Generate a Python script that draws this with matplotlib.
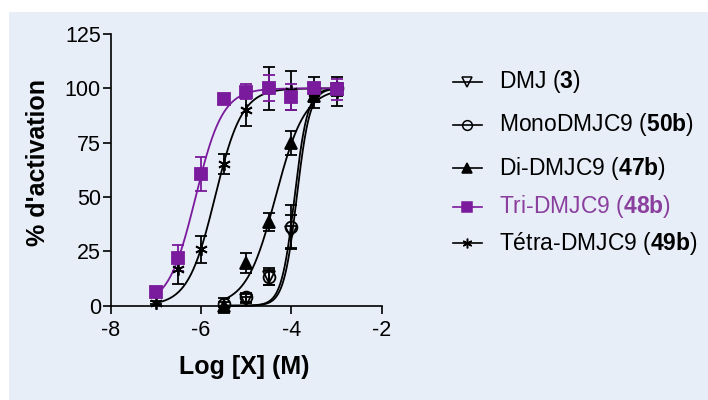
"""Dose-response curves of DMJ derivatives (% activation vs log concentration)."""

import numpy as np
import matplotlib
matplotlib.use("Agg")
import matplotlib.pyplot as plt
from matplotlib.lines import Line2D
from matplotlib.patches import Rectangle

plt.rcParams["font.family"] = ["Liberation Sans", "DejaVu Sans"]
plt.rcParams["mathtext.fontset"] = "custom"
plt.rcParams["mathtext.rm"] = "Liberation Sans"
plt.rcParams["mathtext.bf"] = "Liberation Sans:bold"
plt.rcParams["axes.unicode_minus"] = False

# ---- data ----
log_x = [-7, -6.5, -6, -5.5, -5, -4.5, -4, -3.5, -3]
log_x_late = [-5.5, -5, -4.5, -4, -3.5, -3]
log_x_dmj = [-5, -4.5, -4, -3.5, -3]

dmj_y = [2.6, 13, 34, 99.5, 99.5]
dmj_err = [1.5, 3.5, 7.5, 2, 2]

mono_y = [0.6, 3.8, 13.3, 36.3, 99.5, 100]
mono_err = [1, 2, 4, 10, 2, 2]

di_y = [0, 19.5, 38.6, 74.7, 96.5, 99.5]
di_err = [3.4, 4.6, 4.1, 5.5, 3, 3]

tri_y = [6.4, 22.1, 60.4, 95.2, 98.5, 100.3, 96.2, 100, 99.5]
tri_err = [1, 6, 7.8, 1, 3.5, 6, 6, 2, 5]

tetra_y = [1.4, 16.7, 25.9, 65.2, 90, 100, 99, 98, 98.5]
tetra_err = [0.8, 6.9, 6.1, 4.4, 7.4, 10, 9, 7, 6.5]

# fitted sigmoid parameters (logEC50, Hill slope, curve start)
fit_params = {
    "dmj": (-3.88, 3.0, -5.5),
    "mono": (-3.93, 3.0, -5.5),
    "di": (-4.35, 1.34, -5.5),
    "tri": (-6.12, 1.45, -7.0),
    "tetra": (-5.69, 1.45, -7.0),
}

labels = [r"DMJ ($\mathbf{3}$)", r"MonoDMJC9 ($\mathbf{50b}$)",
          r"Di-DMJC9 ($\mathbf{47b}$)", r"Tri-DMJC9 ($\mathbf{48b}$)",
          r"Tétra-DMJC9 ($\mathbf{49b}$)"]

PURPLE = "#7a1a9c"
PURPLE_TXT = "#8a3f9e"
BG = "#e8eef7"


def sigmoid(x, logec50, hill):
    return 100.0 / (1.0 + 10 ** ((logec50 - x) * hill))


fig = plt.figure(figsize=(7.08, 4.0), dpi=100)
fig.patch.set_facecolor("white")
fig.add_artist(Rectangle((9 / 708, 0), 1, 388 / 400, transform=fig.transFigure,
                         facecolor=BG, edgecolor="none", zorder=-10))

ax = fig.add_axes([110.7 / 708, 94.3 / 400, 271 / 708, 271.7 / 400])
ax.set_facecolor("none")

series = [
    ("dmj", log_x_dmj, dmj_y, dmj_err, "v", "black", "none"),
    ("mono", log_x_late, mono_y, mono_err, "o", "black", "none"),
    ("di", log_x_late, di_y, di_err, "^", "black", "black"),
    ("tetra", log_x, tetra_y, tetra_err, (6, 2, 0), "black", "black"),
    ("tri", log_x, tri_y, tri_err, "s", PURPLE, PURPLE),
]

for key, xs, ys, es, marker, color, face in series:
    c50, hill, x0 = fit_params[key]
    xx = np.linspace(x0, -3, 300)
    ax.plot(xx, sigmoid(xx, c50, hill), color=color, lw=1.3, zorder=2)
    ax.errorbar(xs, ys, yerr=es, fmt="none", ecolor=color, elinewidth=1.3,
                capsize=4.5, capthick=1.3, zorder=3)
    size = 9 if marker == (6, 2, 0) else 8.5
    ax.plot(xs, ys, linestyle="none", marker=marker, markersize=size,
            markerfacecolor=face, markeredgecolor=color, markeredgewidth=1.3,
            zorder=4)

ax.set_xlim(-8, -2)
ax.set_ylim(0, 125)
ax.set_xticks([-8, -6, -4, -2])
ax.set_yticks([0, 25, 50, 75, 100, 125])
for s in ["top", "right"]:
    ax.spines[s].set_visible(False)
for s in ["left", "bottom"]:
    ax.spines[s].set_linewidth(1.2)
ax.tick_params(direction="out", length=6, width=1.2, labelsize=15.5, colors="black")
ax.tick_params(axis="y", pad=1)
ax.tick_params(axis="x", pad=4)
for art in ax.get_children():
    if hasattr(art, "set_clip_on"):
        art.set_clip_on(False)

fig.text(244 / 708, 1 - 367 / 400, "Log [X] (M)", ha="center", va="center",
         fontsize=18, fontweight="bold")
fig.text(38 / 708, 1 - 163 / 400, "% d'activation", ha="center", va="center",
         rotation=90, fontsize=18, fontweight="bold")

# legend drawn by hand on the right
leg_y = [81.7, 125, 168.3, 206.7, 243.3]
leg_markers = ["v", "o", "^", "s", (6, 2, 0)]
leg_colors = ["black", "black", "black", PURPLE, "black"]
leg_faces = ["none", "none", "black", PURPLE, "black"]
for yy, lab, mk, col, fc in zip(leg_y, labels, leg_markers, leg_colors, leg_faces):
    yf = 1 - yy / 400
    fig.add_artist(Line2D([452.7 / 708, 481.7 / 708], [yf, yf],
                          transform=fig.transFigure, color=col, lw=1.2))
    fig.add_artist(Line2D([467 / 708], [yf], transform=fig.transFigure,
                          marker=mk, markersize=7, markerfacecolor=fc,
                          markeredgecolor=col, markeredgewidth=1.1, linestyle="none"))
    tcol = PURPLE_TXT if col == PURPLE else "black"
    fig.text(499 / 708, yf, lab, ha="left", va="center", fontsize=16.5, color=tcol)

fig.savefig("out.png", dpi=100, facecolor=fig.get_facecolor())
